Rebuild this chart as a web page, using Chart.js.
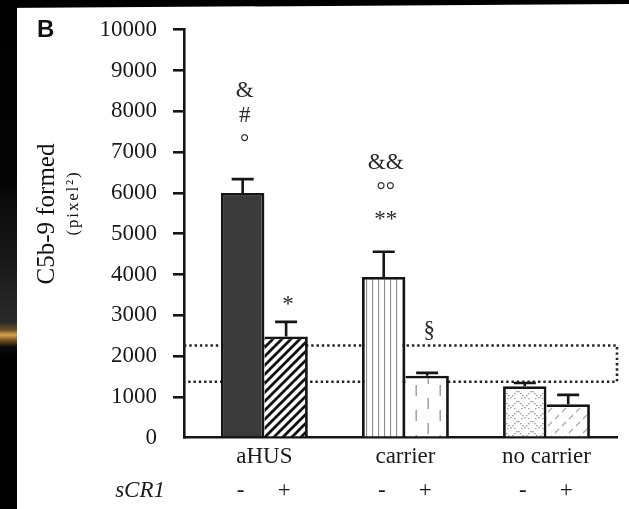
<!DOCTYPE html>
<html>
<head>
<meta charset="utf-8">
<script src="https://cdn.jsdelivr.net/npm/chart.js@4.4.1/dist/chart.umd.min.js"></script>
<style>
  html, body { margin: 0; padding: 0; background: #fff; overflow: hidden; }
  #wrap { position: relative; width: 629px; height: 509px; }
  #topband { position: absolute; left: 0; top: 0; width: 629px; height: 8px; background: #000;
             clip-path: polygon(0 0, 100% 0, 100% 50%, 0 100%); }
  #sidebar { position: absolute; left: 0; top: 0; width: 17px; height: 509px;
             background: linear-gradient(to bottom, #000 0px, #050505 180px, #1c1c1c 270px, #2a2a2a 322px,
               #6a5028 330px, #d8a450 335px, #7a5422 340px, #0a0a0a 347px, #000 360px, #000 509px); }
  canvas { position: absolute; left: 0; top: 0; }
</style>
</head>
<body>
<div id="wrap">
  <div id="topband"></div>
  <div id="sidebar"></div>
  <canvas id="chart" width="629" height="509"></canvas>
</div>
<script>
// Groups on the x axis
const categories = ['aHUS', 'carrier', 'no carrier'];
// C5b-9 area (pixel²) without / with sCR1
const withoutSCR1 = [6000, 3940, 1260];
const withSCR1 = [2480, 1520, 820];
// Upper error (SEM) for each bar
const errWithout = [340, 620, 80];
const errWith = [360, 70, 230];
// Reference band drawn as a dotted box (lower, upper)
const normalRange = [1370, 2260];
// Y axis tick values
const yTicks = [0, 1000, 2000, 3000, 4000, 5000, 6000, 7000, 8000, 9000, 10000];
// Significance marks: [series, group, symbol, level on the y axis]
const marks = [
  [0, 0, '&', 8540], [0, 0, '#', 7920], [0, 0, '°', 7340],
  [1, 0, '*', 3360],
  [0, 1, '&&', 6760], [0, 1, '°°', 6170], [0, 1, '**', 5450],
  [1, 1, '§', 2640]
];

const xMin = -0.57, xMax = 2.5;
const SERIF = "'Liberation Serif', 'Times New Roman', serif";
const INK = '#151515';

function makePattern(w, h, paint) {
  const c = document.createElement('canvas');
  c.width = w; c.height = h;
  const g = c.getContext('2d');
  g.fillStyle = '#fff';
  g.fillRect(0, 0, w, h);
  paint(g, w, h);
  return g.createPattern(c, 'repeat');
}

const fillDark = '#3a3a3a';
const fillHatch = makePattern(9, 9, (g, w, h) => {
  g.strokeStyle = '#111'; g.lineWidth = 2.8;
  g.beginPath();
  g.moveTo(-1, h + 1); g.lineTo(w + 1, -1);
  g.moveTo(-2, 2); g.lineTo(2, -2);
  g.moveTo(w - 2, h + 2); g.lineTo(w + 2, h - 2);
  g.stroke();
});
const fillVertical = makePattern(6, 4, (g) => {
  g.fillStyle = '#8c8c8c'; g.fillRect(0, 0, 1.1, 4);
});
const fillDashed = makePattern(24, 25, (g) => {
  g.fillStyle = '#9a9a9a';
  g.fillRect(7.5, 10, 1.4, 11);
  g.fillRect(19.5, 23, 1.4, 2);
  g.fillRect(19.5, 0, 1.4, 9);
});
const fillZigzag = makePattern(14, 10, (g) => {
  g.fillStyle = '#a0a0a0';
  const pts = [[0, 1], [2, 3], [4, 5], [6, 7], [8, 5], [10, 3], [12, 1]];
  pts.forEach(([x, y]) => g.fillRect(x, y, 1.6, 1.3));
  g.fillRect(3, 8, 1.5, 1.2); g.fillRect(10, 8, 1.5, 1.2);
});
const fillSparse = makePattern(14, 14, (g) => {
  g.strokeStyle = '#a8a8a8'; g.lineWidth = 1.2;
  g.beginPath();
  g.moveTo(2, 6); g.lineTo(6, 2);
  g.moveTo(9, 13); g.lineTo(13, 9);
  g.stroke();
});

const bordersLeft = { top: 2.8, left: 2.8, right: 2.8, bottom: 0 };
const bordersRight = { top: 2.8, left: 0, right: 2.8, bottom: 0 };

const decor = {
  id: 'decor',
  afterDatasetsDraw(chart) {
    const { ctx } = chart;
    const y = chart.scales.y;
    // error bars (upper whisker only)
    [errWithout, errWith].forEach((errs, di) => {
      const meta = chart.getDatasetMeta(di);
      const vals = di === 0 ? withoutSCR1 : withSCR1;
      meta.data.forEach((bar, i) => {
        const yErr = y.getPixelForValue(vals[i] + errs[i]);
        ctx.save();
        ctx.strokeStyle = INK; ctx.lineWidth = 2.6;
        ctx.beginPath();
        ctx.moveTo(bar.x, bar.y); ctx.lineTo(bar.x, yErr);
        ctx.moveTo(bar.x - 11, yErr); ctx.lineTo(bar.x + 11, yErr);
        ctx.stroke();
        ctx.restore();
      });
    });
    // significance symbols, centred on their level
    ctx.save();
    ctx.font = '23px ' + SERIF;
    ctx.fillStyle = '#2a2a2a';
    ctx.textAlign = 'center';
    ctx.textBaseline = 'alphabetic';
    marks.forEach(([s, g, text, level]) => {
      const bar = chart.getDatasetMeta(s).data[g];
      const m = ctx.measureText(text);
      const yy = y.getPixelForValue(level) + (m.actualBoundingBoxAscent - m.actualBoundingBoxDescent) / 2;
      ctx.fillText(text, bar.x + 2, yy);
    });
    ctx.restore();
  },
  afterDraw(chart) {
    const { ctx } = chart;
    ctx.save();
    // panel letter
    ctx.font = 'bold 24px "Liberation Sans", Arial, sans-serif';
    ctx.fillStyle = '#111';
    ctx.textAlign = 'left';
    ctx.textBaseline = 'alphabetic';
    ctx.fillText('B', 37, 37);
    // y axis title
    ctx.save();
    ctx.translate(47, 214);
    ctx.rotate(-Math.PI / 2);
    ctx.textAlign = 'center';
    ctx.textBaseline = 'middle';
    ctx.font = '25px ' + SERIF;
    ctx.fillText('C5b-9 formed', 0, 0);
    ctx.restore();
    ctx.save();
    ctx.translate(74, 203);
    ctx.rotate(-Math.PI / 2);
    ctx.textAlign = 'center';
    ctx.textBaseline = 'middle';
    ctx.font = '17px ' + SERIF;
    ctx.letterSpacing = '1.8px';
    ctx.fillText('(pixel²)', 0, 0);
    ctx.restore();
    // sCR1 row
    ctx.fillStyle = '#1a1a1a';
    ctx.font = 'italic 23px ' + SERIF;
    ctx.textAlign = 'right';
    ctx.fillText('sCR1', 165, 497);
    ctx.font = '23px ' + SERIF;
    ctx.textAlign = 'center';
    [0, 1].forEach((di) => {
      const label = chart.data.datasets[di].label;
      chart.getDatasetMeta(di).data.forEach((bar) => ctx.fillText(label, bar.x - 2, 497));
    });
    ctx.restore();
  }
};

new Chart(document.getElementById('chart'), {
  type: 'bar',
  data: {
    datasets: [
      {
        label: '-',
        data: categories.map((c, i) => ({ x: i, y: withoutSCR1[i] })),
        backgroundColor: [fillDark, fillVertical, fillZigzag],
        borderColor: INK,
        borderWidth: bordersLeft,
        categoryPercentage: 0.616,
        barPercentage: 1,
        order: 1
      },
      {
        label: '+',
        data: categories.map((c, i) => ({ x: i, y: withSCR1[i] })),
        backgroundColor: [fillHatch, fillDashed, fillSparse],
        borderColor: INK,
        borderWidth: bordersRight,
        categoryPercentage: 0.616,
        barPercentage: 1,
        order: 1
      },
      {
        type: 'line',
        label: 'range',
        data: [
          { x: xMin, y: normalRange[1] }, { x: xMax, y: normalRange[1] },
          { x: xMax, y: normalRange[0] }, { x: xMin, y: normalRange[0] }
        ],
        borderColor: '#222',
        borderWidth: 2.6,
        borderDash: [2.4, 2.9],
        pointRadius: 0,
        fill: false,
        tension: 0,
        clip: false,
        order: 5
      }
    ]
  },
  options: {
    responsive: false,
    animation: false,
    devicePixelRatio: 1,
    layout: { padding: { top: 20.7, right: 12, left: 0, bottom: 0 } },
    plugins: { legend: { display: false }, tooltip: { enabled: false } },
    scales: {
      x: {
        type: 'linear',
        min: xMin,
        max: xMax,
        offset: false,
        afterBuildTicks: (s) => { s.ticks = categories.map((c, i) => ({ value: i })); },
        ticks: {
          autoSkip: false,
          maxRotation: 0,
          padding: -3,
          color: '#1a1a1a',
          font: { family: SERIF, size: 23 },
          callback: (v) => categories[v] ?? ''
        },
        grid: { display: false },
        border: { display: true, color: INK, width: 2.6 },
        afterFit: (s) => { s.height = 71.3; }
      },
      y: {
        min: 0,
        max: 10000,
        afterBuildTicks: (s) => { s.ticks = yTicks.map((v) => ({ value: v })); },
        ticks: {
          padding: 16,
          color: '#1a1a1a',
          font: { family: SERIF, size: 23 },
          callback: (v) => String(v)
        },
        grid: {
          drawOnChartArea: false,
          drawTicks: true,
          tickLength: 11,
          lineWidth: 2.6,
          color: (c) => (c.tick && c.tick.value === 0 ? 'rgba(0,0,0,0)' : INK)
        },
        border: { display: true, color: INK, width: 2.6 },
        afterFit: (s) => { s.width = 184; }
      }
    }
  },
  plugins: [decor]
});
</script>
</body>
</html>
